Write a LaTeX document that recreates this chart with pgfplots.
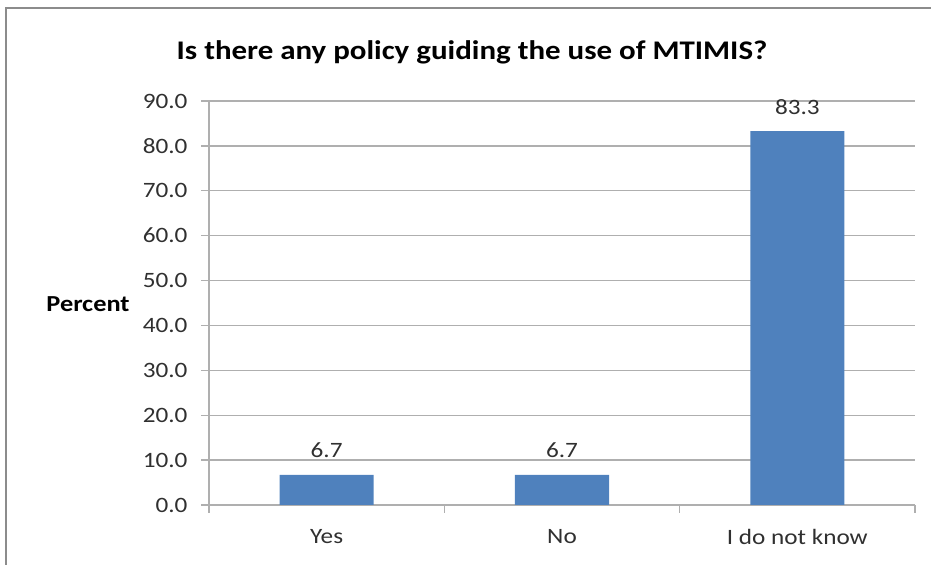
\documentclass[border=0pt]{standalone}
\usepackage{fontspec}
\setmainfont{Carlito}[FakeStretch=1.15]
\usepackage{pgfplots}
\pgfplotsset{compat=1.18}
\definecolor{barblue}{HTML}{4F81BD}
\definecolor{gridgray}{HTML}{AFAFAF}
\definecolor{framegray}{HTML}{8C8C8C}
\definecolor{labelgray}{HTML}{303030}

\begin{document}
\begin{tikzpicture}[x=1bp,y=1bp]
  \path[use as bounding box] (0,0) rectangle (931,565);
  % chart frame
  \draw[line width=2.5bp, framegray] (6,-2) -- (6,557) -- (933,557);
  % title
  \node[anchor=base, font=\bfseries\fontsize{27}{32}\selectfont] at (472,505)
    {Is there any policy guiding the use of MTIMIS?};
  % y axis label
  \node[anchor=base, font=\bfseries\fontsize{23}{27}\selectfont] at (88,253) {Percent};

  \begin{axis}[
    at={(209bp,60bp)}, anchor=south west,
    scale only axis,
    width=706bp, height=404bp,
    xmin=-0.5, xmax=2.5,
    ymin=0, ymax=90,
    axis lines*=left,
    axis line style={gridgray, line width=1.3bp},
    xtick={-0.5,0.5,1.5,2.5},
    xticklabels={Yes,No,I do not know},
    x tick label as interval,
    ytick={0,10,...,90},
    tick align=outside,
    major tick length=8bp,
    tick style={gridgray, line width=1.3bp},
    ymajorgrids,
    grid style={gridgray, line width=1.3bp},
    /pgf/number format/assume math mode=true,
    yticklabel style={/pgf/number format/fixed, /pgf/number format/fixed zerofill,
      /pgf/number format/precision=1, xshift=-10bp},
    ticklabel style={font=\fontsize{22}{26}\selectfont, text=labelgray},
    xticklabel style={yshift=-13bp},
    ybar,
    bar width=0.4,
    nodes near coords,
    nodes near coords style={anchor=base, yshift=17bp,
      font=\fontsize{22}{26}\selectfont, text=labelgray,
      /pgf/number format/fixed, /pgf/number format/fixed zerofill,
      /pgf/number format/precision=1},
  ]
    \addplot[fill=barblue, draw=none] coordinates {(0,6.7) (1,6.7) (2,83.3)};
  \end{axis}
\end{tikzpicture}
\end{document}
